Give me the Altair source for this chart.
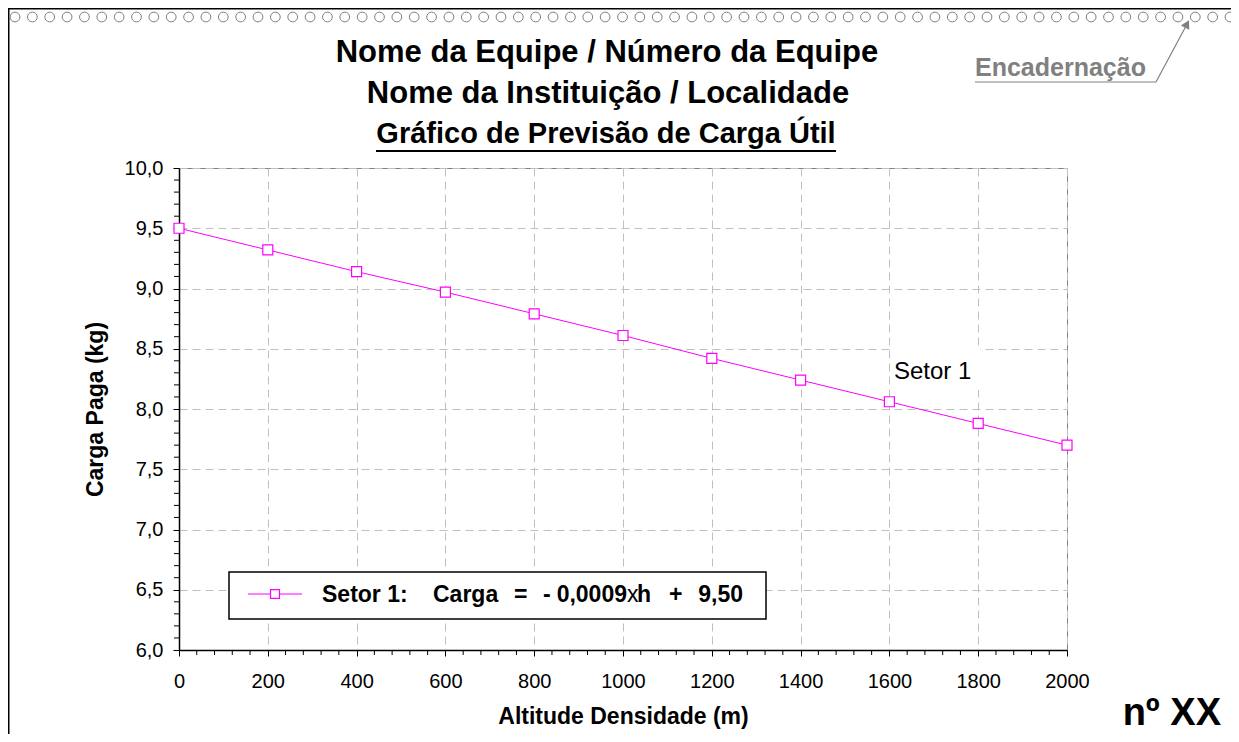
import altair as alt
import pandas as pd

# ---------------- data ----------------
altitude = [0, 200, 400, 600, 800, 1000, 1200, 1400, 1600, 1800, 2000]
carga = [9.50, 9.32, 9.14, 8.97, 8.79, 8.61, 8.42, 8.24, 8.06, 7.88, 7.70]

x_major = [0, 200, 400, 600, 800, 1000, 1200, 1400, 1600, 1800, 2000]
y_major = [6.0, 6.5, 7.0, 7.5, 8.0, 8.5, 9.0, 9.5, 10.0]
x_minor = [a + k * 40 for a in x_major[:-1] for k in (1, 2, 3, 4)]
y_minor = [round(a + k * 0.1, 1) for a in y_major[:-1] for k in (1, 2, 3, 4)]

title_lines = [
    "Nome da Equipe / Número da Equipe",
    "Nome da Instituição / Localidade",
    "Gráfico de Previsão de Carga Útil",
]
x_title = "Altitude Densidade (m)"
y_title = "Carga Paga (kg)"
series_label = "Setor 1"
legend_parts = ["Setor 1:", "Carga", "=", "-", "0,0009", "x", "h", "+", "9,50"]
binding_label = "Encadernação"
team_number = "nº XX"
binding_holes = list(range(71))

# ---------------- layout helpers ----------------
W, H = 888, 482
PAD_L, PAD_T = 171, 160
LEFT, TOP = 8 + PAD_L, 8 + PAD_T  # page position of plot origin
FONT = "Liberation Sans"
MAGENTA = "#FF00FF"
GRAY = "#808080"

one = pd.DataFrame({"k": [0]})


def px(x):
    return x - LEFT


def py(y):
    return y - TOP


def label(text, x, y, size, weight="normal", align="left", color="black", baseline="alphabetic"):
    return alt.Chart(pd.DataFrame({"t": [text]})).mark_text(
        font=FONT, fontSize=size, fontWeight=weight, align=align,
        baseline=baseline, color=color
    ).encode(x=alt.value(px(x)), y=alt.value(py(y)), text="t:N")


def seg(x1, y1, x2, y2, color="black", width=1.0):
    return alt.Chart(one).mark_rule(color=color, strokeWidth=width).encode(
        x=alt.value(px(x1)), x2=alt.value(px(x2)), y=alt.value(py(y1)), y2=alt.value(py(y2))
    )


# ---------------- main plot ----------------
df = pd.DataFrame({"alt": altitude, "carga": carga})
xs = alt.Scale(domain=[0, 2000], nice=False, zero=False)
ys = alt.Scale(domain=[6, 10], nice=False, zero=False)

xaxis = alt.Axis(
    values=x_major, format="d", title=x_title,
    labelFont=FONT, labelFontSize=20, labelColor="black", labelPadding=15, labelFlush=False,
    tickSize=6, tickColor="black", domainColor="black", domainWidth=1.5,
    grid=True, gridColor="#c0c0c0", gridDash=[8, 5],
    titleFont=FONT, titleFontSize=23, titleFontWeight="bold", titleColor="black",
    titleX=W / 2, titleY=73, titleBaseline="alphabetic", titleAlign="center",
)
yaxis = alt.Axis(
    values=y_major, labelExpr="replace(format(datum.value, '.1f'), '.', ',')", title=y_title,
    labelFont=FONT, labelFontSize=20, labelColor="black", labelPadding=10,
    tickSize=6, tickColor="black", domainColor="black", domainWidth=1.5,
    grid=True, gridColor="#c0c0c0", gridDash=[8, 5],
    titleFont=FONT, titleFontSize=23, titleFontWeight="bold", titleColor="black",
    titleX=px(95), titleY=H / 2, titleAngle=270, titleBaseline="middle", titleAlign="center",
)

base = alt.Chart(df).encode(
    x=alt.X("alt:Q", scale=xs, axis=xaxis),
    y=alt.Y("carga:Q", scale=ys, axis=yaxis),
)
line = base.mark_line(color=MAGENTA, strokeWidth=1)
pts = alt.Chart(df).mark_square(
    size=100, fill="white", stroke=MAGENTA, strokeWidth=1.2, opacity=1
).encode(x=alt.X("alt:Q", scale=xs, axis=None), y=alt.Y("carga:Q", scale=ys, axis=None))

xminor = alt.Chart(pd.DataFrame({"v": x_minor})).mark_rule(color="black", strokeWidth=1).encode(
    x=alt.X("v:Q", scale=xs, axis=None), y=alt.value(H), y2=alt.value(H + 5)
)
yminor = alt.Chart(pd.DataFrame({"v": y_minor})).mark_rule(color="black", strokeWidth=1).encode(
    y=alt.Y("v:Q", scale=ys, axis=None), x=alt.value(-5), x2=alt.value(0)
)

# ---------------- decorations ----------------
border_top = seg(8, 8.75, 1231, 8.75, "black", 1.5)
border_left = seg(8.75, 8, 8.75, 734, "black", 1.5)

holes = alt.Chart(pd.DataFrame({"i": binding_holes})).mark_point(
    shape="circle", size=95, filled=True, fill="white", stroke=GRAY, strokeWidth=1, opacity=1
).encode(
    x=alt.X("i:Q", scale=alt.Scale(domain=[0, 70], range=[px(15), px(1230)]), axis=None),
    y=alt.value(py(17)),
)

titles = [
    label(title_lines[0], 607, 62, 31, "bold", "center"),
    label(title_lines[1], 608, 103, 31, "bold", "center"),
    label(title_lines[2], 606, 143, 29, "bold", "center"),
]
title_underline = seg(376, 151, 836, 151, "black", 2)

binding_text = label(binding_label, 975, 76, 25, "bold", "left", GRAY)
binding_line = seg(975, 82, 1156, 82, GRAY, 1.2)
arrow_line = seg(1156, 82, 1186, 26, GRAY, 1.2)
arrow_head = alt.Chart(one).mark_point(
    shape="triangle-up", angle=28, size=90, filled=True, color=GRAY, opacity=1
).encode(x=alt.value(px(1187)), y=alt.value(py(24)))

series_box = alt.Chart(one).mark_rect(fill="white").encode(
    x=alt.value(px(891)), x2=alt.value(px(980)), y=alt.value(py(347)), y2=alt.value(py(390))
)
series_text = label(series_label, 894, 379, 24, "normal", "left")

legend_box = alt.Chart(one).mark_rect(fill="white", stroke="black", strokeWidth=1.5).encode(
    x=alt.value(px(229)), x2=alt.value(px(766)), y=alt.value(py(572)), y2=alt.value(py(619))
)
legend_line = seg(248, 594, 302, 594, MAGENTA, 1)
legend_sym = alt.Chart(one).mark_square(
    size=80, fill="white", stroke=MAGENTA, strokeWidth=1.2, opacity=1
).encode(x=alt.value(px(275)), y=alt.value(py(594)))
LB = 602
LS = 23
legend_texts = [
    label(legend_parts[0], 322, LB, LS, "bold", "left"),
    label(legend_parts[1], 433, LB, LS, "bold", "left"),
    label(legend_parts[2], 514, LB, LS, "bold", "left"),
    label(legend_parts[3], 543, LB, LS, "bold", "left"),
    label(legend_parts[4], 627, LB, LS, "bold", "right"),
    label(legend_parts[5], 627, LB, LS, "normal", "left"),
    label(legend_parts[6], 637, LB, LS, "bold", "left"),
    label(legend_parts[7], 669, LB, LS, "bold", "left"),
    label(legend_parts[8], 743, LB, LS, "bold", "right"),
]

number_text = label(team_number, 1221, 725, 38, "bold", "right")

chart = alt.layer(
    border_top, border_left, holes, *titles, title_underline,
    binding_text, binding_line, arrow_line, arrow_head,
    line, pts, xminor, yminor,
    series_box, series_text,
    legend_box, legend_line, legend_sym, *legend_texts,
    number_text,
).resolve_scale(x="independent", y="independent").properties(
    width=W, height=H,
    padding={"left": PAD_L, "top": PAD_T, "right": 1223 - PAD_L - W, "bottom": 726 - PAD_T - H},
    autosize=alt.AutoSizeParams(type="none"),
    background="white",
).configure_view(stroke=GRAY, strokeWidth=1)

chart.save("out.html", embed_options={"renderer": "svg", "actions": False})
